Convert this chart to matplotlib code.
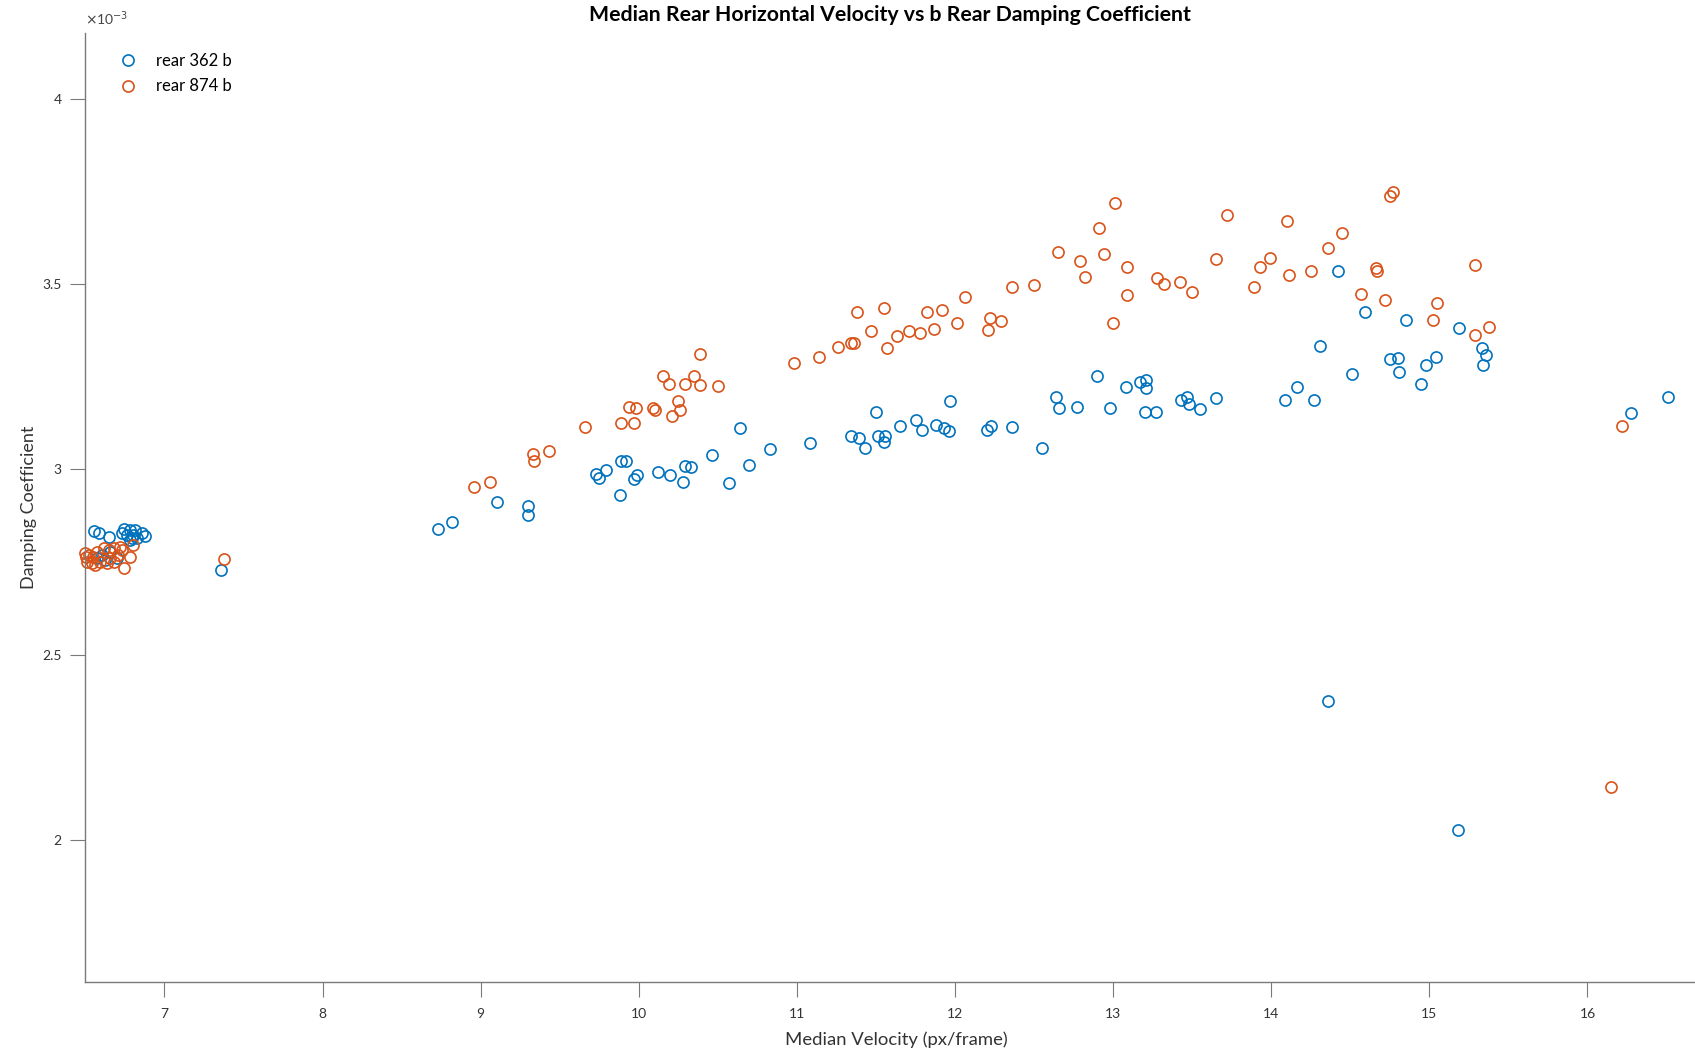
import matplotlib
matplotlib.use("Agg")
import matplotlib.pyplot as plt

plt.rcParams['font.family'] = ['Lato', 'DejaVu Sans']

# rear 362 b  (velocity px/frame, damping coefficient x 1e-3)
vel_362 = [6.556, 6.583, 6.646, 6.741, 6.779, 6.815, 6.857, 6.878, 6.762, 6.794,
           6.826, 6.783, 6.804, 6.731, 6.605, 6.657, 6.573, 6.699, 6.625,
           7.36, 8.73, 8.82, 9.10, 9.30, 9.30, 9.73, 9.75, 9.79, 9.88, 9.89,
           9.92, 9.97, 9.99, 10.12, 10.20, 10.28, 10.29, 10.33, 10.46, 10.57,
           10.64, 10.70, 10.83, 11.08, 11.34, 11.39, 11.43, 11.50, 11.51, 11.55,
           11.56, 11.65, 11.75, 11.79, 11.88, 11.93, 11.96, 11.97, 12.20, 12.23,
           12.36, 12.55, 12.64, 12.66, 12.77, 12.90, 12.98, 13.08, 13.17, 13.20,
           13.21, 13.21, 13.27, 13.43, 13.47, 13.48, 13.55, 13.65, 14.09, 14.16,
           14.27, 14.31, 14.36, 14.42, 14.51, 14.59, 14.75, 14.80, 14.81, 14.85,
           14.95, 14.98, 15.04, 15.18, 15.19, 15.33, 15.36, 15.34, 16.274, 16.51]
damp_362 = [2.833, 2.827, 2.818, 2.839, 2.836, 2.836, 2.827, 2.821, 2.823, 2.815,
            2.814, 2.809, 2.824, 2.827, 2.770, 2.776, 2.760, 2.760, 2.755,
            2.729, 2.840, 2.857, 2.913, 2.901, 2.878, 2.988, 2.977, 2.997, 2.930, 3.023,
            3.023, 2.974, 2.985, 2.994, 2.985, 2.965, 3.009, 3.006, 3.038, 2.962,
            3.111, 3.012, 3.055, 3.070, 3.090, 3.085, 3.058, 3.155, 3.090, 3.073,
            3.090, 3.117, 3.134, 3.105, 3.120, 3.111, 3.102, 3.184, 3.105, 3.117,
            3.114, 3.058, 3.195, 3.166, 3.169, 3.251, 3.166, 3.222, 3.236, 3.155,
            3.219, 3.242, 3.155, 3.187, 3.195, 3.175, 3.163, 3.192, 3.187, 3.222,
            3.187, 3.332, 2.376, 3.536, 3.257, 3.423, 3.297, 3.300, 3.262, 3.402,
            3.230, 3.280, 3.303, 2.026, 3.382, 3.327, 3.309, 3.280, 3.151, 3.196]

# rear 874 b
vel_874 = [6.500, 6.520, 6.510, 6.551, 6.573, 6.615, 6.646, 6.678, 6.720, 6.731,
           6.804, 6.783, 6.741, 6.678, 6.636, 6.594, 6.541, 6.709, 6.657, 6.562, 6.505,
           7.376, 8.96, 9.06, 9.33, 9.34, 9.43, 9.66, 9.89, 9.97, 9.94,
           9.98, 10.09, 10.10, 10.15, 10.19, 10.21, 10.25, 10.26, 10.29, 10.35,
           10.39, 10.39, 10.50, 10.98, 11.14, 11.26, 11.34, 11.36, 11.38, 11.47,
           11.55, 11.57, 11.63, 11.71, 11.78, 11.82, 11.87, 11.92, 12.01, 12.06,
           12.21, 12.22, 12.29, 12.36, 12.50, 12.65, 12.79, 12.82, 12.91, 12.94,
           13.00, 13.01, 13.09, 13.09, 13.28, 13.32, 13.42, 13.50, 13.65, 13.72,
           13.89, 13.93, 13.99, 14.10, 14.11, 14.25, 14.36, 14.45, 14.57, 14.66,
           14.67, 14.72, 14.75, 14.77, 15.02, 15.05, 15.29, 15.29, 15.38, 16.217, 16.15]
damp_874 = [2.773, 2.769, 2.751, 2.764, 2.778, 2.787, 2.782, 2.787, 2.791, 2.782,
            2.796, 2.764, 2.733, 2.751, 2.746, 2.751, 2.746, 2.769, 2.760, 2.742, 2.764,
            2.758, 2.953, 2.965, 3.041, 3.023, 3.050, 3.114, 3.125, 3.125, 3.169,
            3.166, 3.166, 3.160, 3.251, 3.230, 3.143, 3.184, 3.160, 3.230, 3.251,
            3.312, 3.227, 3.224, 3.286, 3.303, 3.329, 3.341, 3.341, 3.423, 3.373,
            3.434, 3.327, 3.359, 3.373, 3.367, 3.423, 3.379, 3.431, 3.394, 3.466,
            3.376, 3.408, 3.399, 3.493, 3.496, 3.586, 3.563, 3.519, 3.650, 3.580,
            3.394, 3.717, 3.545, 3.469, 3.516, 3.501, 3.504, 3.478, 3.566, 3.685,
            3.493, 3.545, 3.571, 3.671, 3.525, 3.534, 3.598, 3.638, 3.472, 3.542,
            3.536, 3.458, 3.738, 3.749, 3.402, 3.449, 3.362, 3.551, 3.385, 3.117, 2.143]

x_ticks = [7, 8, 9, 10, 11, 12, 13, 14, 15, 16]
y_ticks = [2, 2.5, 3, 3.5, 4]

fig = plt.figure(figsize=(16.95, 10.51), dpi=100)
ax = fig.add_axes([0.0504, 0.066, 0.9496, 0.903])

ax.plot(vel_362, damp_362, 'o', mfc='none', mec='#0072BD', ms=8, mew=1.2,
        label='rear 362 b', clip_on=False)
ax.plot(vel_874, damp_874, 'o', mfc='none', mec='#D95319', ms=8, mew=1.2,
        label='rear 874 b', clip_on=False)

ax.set_xlim(6.5, 16.68)
ax.set_ylim(1.618, 4.178)
ax.set_xticks(x_ticks)
ax.set_yticks(y_ticks)
ax.set_yticklabels(['2', '2.5', '3', '3.5', '4'])

for s in ['top', 'right']:
    ax.spines[s].set_visible(False)
for s in ['left', 'bottom']:
    ax.spines[s].set_color('#7a7a7a')
    ax.spines[s].set_linewidth(1.0)
ax.tick_params(direction='out', length=11, width=0.8, color='#7a7a7a',
               labelsize=10, labelcolor='#333333', pad=6)
ax.tick_params(axis='x', pad=8)

ax.text(0.0, 1.005, r'$\times$10$^{-3}$', transform=ax.transAxes, fontsize=10,
        color='#444444', va='bottom', ha='left')

fig.text(0.5252, 0.9855, 'Median Rear Horizontal Velocity vs b Rear Damping Coefficient',
         fontsize=15.3, fontweight='bold', ha='center', va='center')
ax.set_xlabel('Median Velocity (px/frame)', fontsize=13.3, color='#333333', labelpad=5)
ax.xaxis.set_label_coords(0.504, -0.052)
ax.set_ylabel('Damping Coefficient', fontsize=13, color='#333333', labelpad=4)

ax.legend(loc='upper left', bbox_to_anchor=(0.0066, 0.994), frameon=False,
          fontsize=12, handletextpad=0.7, labelspacing=0.55)

fig.savefig('out.png', dpi=100)
